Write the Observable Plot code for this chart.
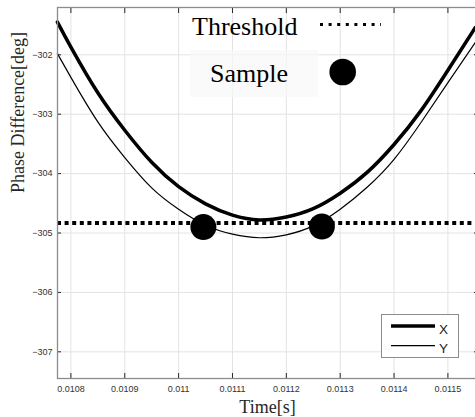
<!DOCTYPE html>
<html>
<head>
<meta charset="utf-8">
<script src="https://cdn.jsdelivr.net/npm/d3@7"></script>
<script src="https://cdn.jsdelivr.net/npm/@observablehq/plot@0.6"></script>
<style>
  body { margin: 0; background: #fff; }
</style>
</head>
<body>
<div id="chart"></div>
<script>
// Phase difference of the X and Y channels around the minimum
const time   = [0.010775, 0.0108, 0.01085, 0.0109, 0.01095, 0.011, 0.01105, 0.0111, 0.01115,
                0.0112, 0.01125, 0.0113, 0.01135, 0.0114, 0.01145, 0.0115, 0.011551];
const phaseX = [-301.45, -301.87, -302.64, -303.27, -303.81, -304.22, -304.51, -304.70, -304.78,
                -304.73, -304.59, -304.33, -303.98, -303.51, -302.94, -302.26, -301.54];
const phaseY = [-301.98, -302.38, -303.13, -303.73, -304.24, -304.60, -304.87, -305.02, -305.08,
                -305.03, -304.88, -304.60, -304.23, -303.76, -303.14, -302.47, -301.79];

const threshold = -304.83;
const sampleTime  = [0.011046, 0.011266];
const samplePhase = [-304.90, -304.89];

const xTicks = [0.0108, 0.0109, 0.011, 0.0111, 0.0112, 0.0113, 0.0114, 0.0115];
const xTickLabels = ["0.0108", "0.0109", "0.011", "0.0111", "0.0112", "0.0113", "0.0114", "0.0115"];
const yTicks = [-307, -306, -305, -304, -303, -302];
const yTickLabels = ["\u2212307", "\u2212306", "\u2212305", "\u2212304", "\u2212303", "\u2212302"];

const seriesNames = ["X", "Y"];
const legendNames = ["Threshold", "Sample"];

const curveX = time.map((t, i) => ({t, v: phaseX[i]}));
const curveY = time.map((t, i) => ({t, v: phaseY[i]}));
const samples = sampleTime.map((t, i) => ({t, v: samplePhase[i]}));

const serif = "'Liberation Serif', 'Times New Roman', serif";
const sans = "'Liberation Sans', Arial, Helvetica, sans-serif";
const tickColor = "#262626";

const xLabel = t => xTickLabels[xTicks.findIndex(d => Math.abs(d - t) < 1e-9)];
const yLabel = v => yTickLabels[yTicks.indexOf(v)];

const chart = Plot.plot({
  width: 475,
  height: 417,
  marginLeft: 57,
  marginRight: -2,
  marginTop: 7,
  marginBottom: 39,
  style: {background: "#fff", overflow: "visible"},
  x: {domain: [0.01077512, 0.01155493]},
  y: {domain: [-307.449, -301.204]},
  marks: [
    Plot.gridX(xTicks, {stroke: "#e3e3e3", strokeOpacity: 1}),
    Plot.gridY(yTicks, {stroke: "#e3e3e3", strokeOpacity: 1}),
    // inward ticks on all four sides
    Plot.axisX(xTicks, {anchor: "bottom", tickSize: 5, dy: -5, fill: "none", stroke: tickColor, label: null}),
    Plot.axisX(xTicks, {anchor: "top", tickSize: 5, dy: 5, fill: "none", stroke: tickColor, label: null}),
    Plot.axisY(yTicks, {anchor: "left", tickSize: 4, dx: 4, fill: "none", stroke: tickColor, label: null}),
    Plot.axisY(yTicks, {anchor: "right", tickSize: 4, dx: -4, fill: "none", stroke: tickColor, label: null}),
    // tick labels
    Plot.axisX(xTicks, {anchor: "bottom", tickSize: 0, tickPadding: 7, tickFormat: xLabel,
      fontSize: 9, fontFamily: sans, fill: "#333", label: null}),
    Plot.axisY(yTicks, {anchor: "left", tickSize: 0, tickPadding: 5, tickFormat: yLabel,
      fontSize: 9, fontFamily: sans, fill: "#333", label: null}),
    // axis titles
    Plot.text(["Time[s]"], {frameAnchor: "bottom", dy: 29, fontSize: 18, fontFamily: serif,
      fill: "#262626", lineAnchor: "middle"}),
    Plot.text(["Phase Difference[deg]"], {frameAnchor: "left", dx: -39.5, rotate: -90, fontSize: 18,
      fontFamily: serif, fill: "#262626", lineAnchor: "middle"}),
    // curves
    Plot.line(curveX, {x: "t", y: "v", stroke: "#000", strokeWidth: 3.5, curve: "natural"}),
    Plot.line(curveY, {x: "t", y: "v", stroke: "#000", strokeWidth: 1.2, curve: "natural"}),
    Plot.ruleY([threshold], {stroke: "#000", strokeWidth: 4, strokeDasharray: "4,3.6"}),
    Plot.dot(samples, {x: "t", y: "v", r: 13, fill: "#000", stroke: "none"}),
    Plot.frame({stroke: "#8c8c8c", strokeWidth: 1.3})
  ]
});

document.getElementById("chart").appendChild(chart);

// legends drawn on top of the plot area
const svg = d3.select(chart);

const keyTop = svg.append("g").attr("text-anchor", "start");
keyTop.append("rect").attr("x", 190).attr("y", 50).attr("width", 128).attr("height", 47)
  .attr("fill", "#f8f8f8").attr("fill-opacity", 0.7);
keyTop.append("text").attr("x", 192).attr("y", 35).text(legendNames[0])
  .attr("font-family", serif).attr("font-size", 26).attr("fill", "#000");
keyTop.append("line").attr("x1", 320).attr("x2", 381).attr("y1", 24.5).attr("y2", 24.5)
  .attr("stroke", "#000").attr("stroke-width", 3).attr("stroke-dasharray", "3,5.6");
keyTop.append("text").attr("x", 210).attr("y", 82).text(legendNames[1])
  .attr("font-family", serif).attr("font-size", 26).attr("fill", "#000");
keyTop.append("circle").attr("cx", 342.7).attr("cy", 72).attr("r", 13.3).attr("fill", "#000");

const keySeries = svg.append("g").attr("text-anchor", "start");
keySeries.append("rect").attr("x", 381.5).attr("y", 314.5).attr("width", 77).attr("height", 43)
  .attr("fill", "#fff").attr("stroke", "#8c8c8c").attr("stroke-width", 1);
keySeries.append("line").attr("x1", 391).attr("x2", 435).attr("y1", 326).attr("y2", 326)
  .attr("stroke", "#000").attr("stroke-width", 3.5);
keySeries.append("line").attr("x1", 391).attr("x2", 435).attr("y1", 345.7).attr("y2", 345.7)
  .attr("stroke", "#000").attr("stroke-width", 1.2);
keySeries.append("text").attr("x", 439).attr("y", 333.5).text(seriesNames[0])
  .attr("font-family", sans).attr("font-size", 13.5).attr("fill", "#222");
keySeries.append("text").attr("x", 439).attr("y", 353).text(seriesNames[1])
  .attr("font-family", sans).attr("font-size", 13.5).attr("fill", "#222");
</script>
</body>
</html>
